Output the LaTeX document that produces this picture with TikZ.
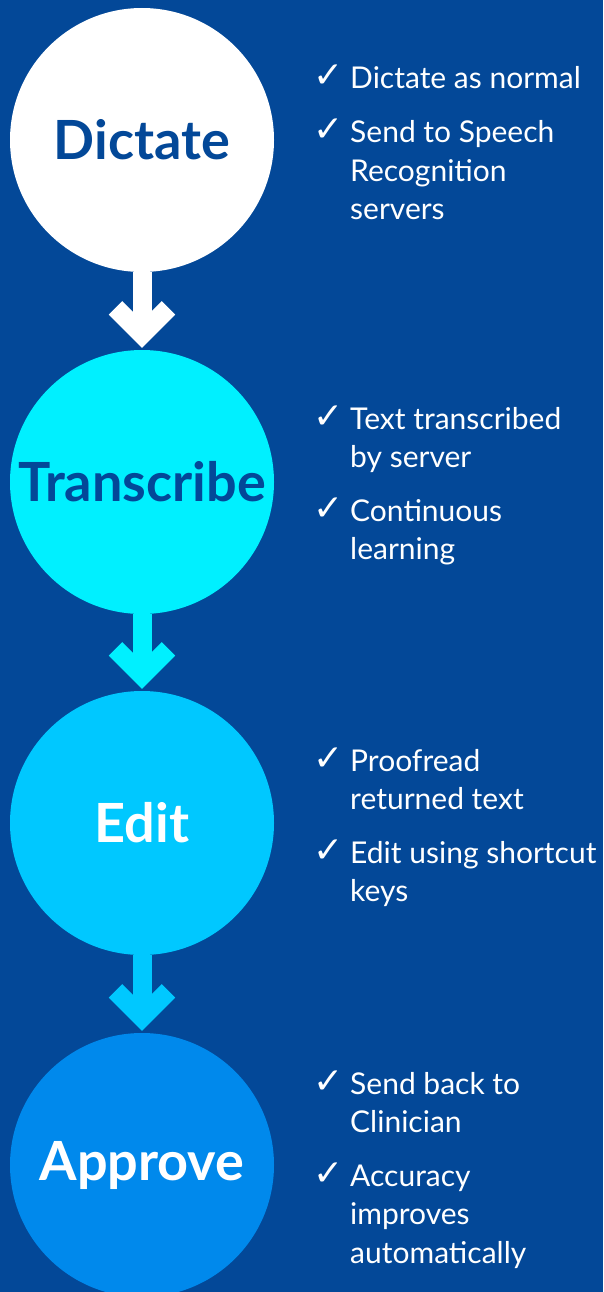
\documentclass[tikz,border=0pt]{standalone}
\usepackage{fontspec}
\setmainfont{Lato}
\newfontfamily\symfont{DejaVu Sans}
\usetikzlibrary{positioning,arrows.meta}
\definecolor{bgblue}{RGB}{3,72,152}
\definecolor{stepcyan}{RGB}{0,240,255}
\definecolor{stepsky}{RGB}{0,200,255}
\definecolor{stepblue}{RGB}{0,137,236}
\newcommand{\checklines}[1]{\begin{tabular}[t]{@{}l@{}}#1\end{tabular}}

\begin{document}
\begin{tikzpicture}[x=1pt,y=-1pt,
  stagenode/.style={circle, minimum size=264pt, inner sep=0pt, font=\fontsize{54}{54}\selectfont\bfseries},
  flowarrow/.style={line width=19pt, -{Straight Barb[length=26.5pt,width=53pt,line width=19pt]}, shorten >=2pt},
  checkitem/.style={anchor=base west, font=\fontsize{30}{38.5}\selectfont, text=white, inner sep=0pt},
  tick/.style={anchor=base east, font=\symfont\bfseries\fontsize{36}{36}\selectfont, text=white, inner sep=0pt},
]
    \clip (0,0) rectangle (603,1292);
    \fill[bgblue] (0,0) rectangle (603,1292);
    % stages
    \node[stagenode, fill=white, text=bgblue]      (dictate)    at (142,140)  {Dictate};
    \node[stagenode, fill=stepcyan, text=bgblue]   (transcribe) at (142,482)  {Transcribe};
    \node[stagenode, fill=stepsky, text=white]     (edit)       at (142,823)  {Edit};
    \node[stagenode, fill=stepblue, text=white]    (approve)    at (142,1165) {Approve};
    % arrows
    \draw[flowarrow, white]   (dictate.south)    -- (transcribe.north);
    \draw[flowarrow, stepcyan] (transcribe.south) -- (edit.north);
    \draw[flowarrow, stepsky]  (edit.south)       -- (approve.north);
    % check lists
    \node[checkitem] (dictate-a)    at (350,89)   {Dictate as normal};
    \node[checkitem] (dictate-b)    at (350,143)  {\checklines{Send to Speech\\Recognition\\servers}};
    \node[checkitem] (transcribe-a) at (350,429)  {\checklines{Text transcribed\\by server}};
    \node[checkitem] (transcribe-b) at (350,521)  {\checklines{Continuous\\learning}};
    \node[checkitem] (edit-a)       at (350,771)  {\checklines{Proofread\\returned text}};
    \node[checkitem] (edit-b)       at (350,863)  {\checklines{Edit using shortcut\\keys}};
    \node[checkitem] (approve-a)    at (350,1094) {\checklines{Send back to\\Clinician}};
    \node[checkitem] (approve-b)    at (350,1186) {\checklines{Accuracy\\improves\\automatically}};
    \foreach \item in {dictate-a,dictate-b,transcribe-a,transcribe-b,edit-a,edit-b,approve-a,approve-b}
        \node[tick] at ([xshift=-6pt,yshift=1pt]\item.base west) {✓};
\end{tikzpicture}
\end{document}
